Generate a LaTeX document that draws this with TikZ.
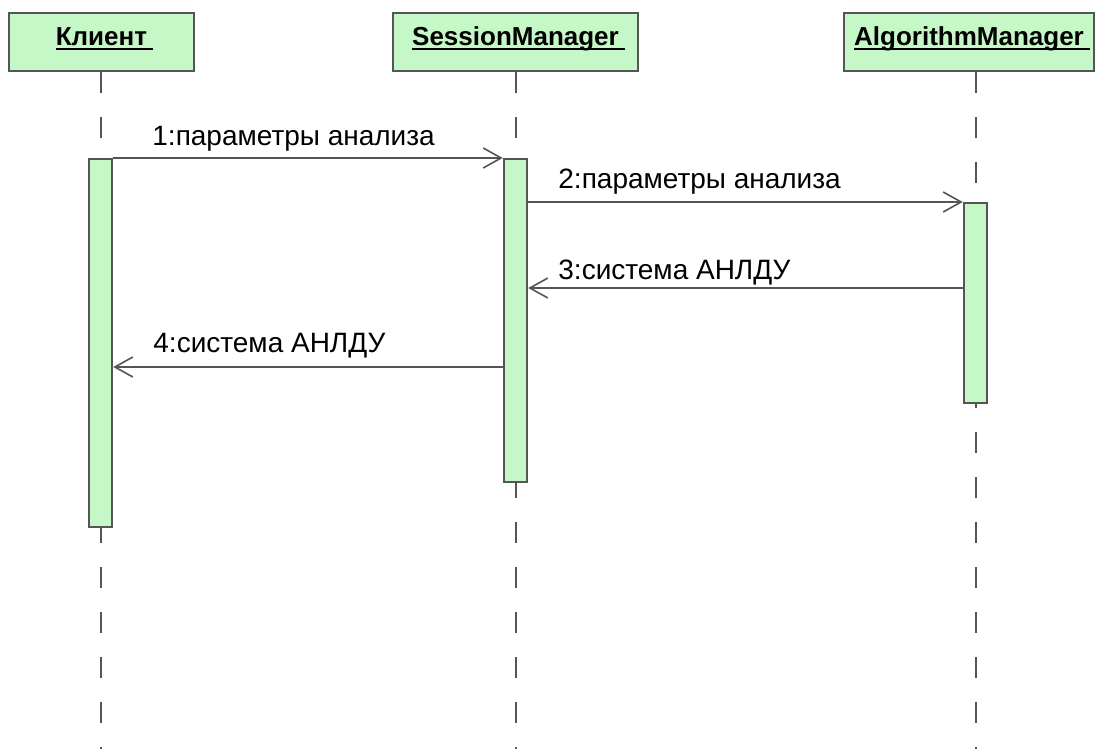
\documentclass[tikz,border=0pt]{standalone}
\usepackage{fontspec}
\setmainfont{Liberation Sans}
\usetikzlibrary{arrows.meta, positioning}

\definecolor{actgreen}{RGB}{198,247,198}
\definecolor{linegray}{RGB}{85,85,85}

% underlined object name, rule at a fixed depth
\newcommand{\objname}[1]{\setbox0=\hbox{#1}%
  \rlap{\vrule width\dimexpr\wd0+3pt\relax height-1.3pt depth 2.3pt}\box0}

\begin{document}
\begin{tikzpicture}[x=0.5pt, y=-0.5pt,
    obj/.style={rectangle, draw=linegray, line width=1.2pt, fill=actgreen,
                minimum height=29pt, inner sep=0pt, text height=9.5pt, text depth=6pt,
                font=\fontsize{13pt}{15pt}\selectfont\bfseries},
    actbar/.style={rectangle, draw=linegray, line width=1.2pt, fill=actgreen,
                   minimum width=11.5pt, inner sep=0pt, anchor=north},
    life/.style={draw=linegray, line width=1pt, dash pattern=on 10.5pt off 12pt},
    msg/.style={-{Straight Barb[length=9pt, width=10pt]}, draw=linegray, line width=0.8pt},
    lbl/.style={anchor=base west, inner sep=0pt, font=\fontsize{14pt}{16pt}\selectfont}
  ]
    \useasboundingbox (0,0) rectangle (1096,749);

    % objects
    \node[obj, minimum width=92.5pt] (client) at (101.5,42) {\objname{Клиент}};
    \node[obj, minimum width=122.5pt] (session) at (515.5,42) {\objname{SessionManager}};
    \node[obj, minimum width=125pt] (algo) at (969,42) {\objname{AlgorithmManager}};

    % lifelines
    \coordinate (clientend) at (101,749);
    \coordinate (sessionend) at (516,749);
    \coordinate (algoend) at (976,749);
    \draw[life] (client.south -| clientend) -- (clientend);
    \draw[life] (session.south -| sessionend) -- (sessionend);
    \draw[life] (algo.south -| algoend) -- (algoend);

    % activations
    \node[actbar, minimum height=184pt] (clientbar) at (100.5,158) {};
    \node[actbar, minimum height=161.5pt] (sessionbar) at (515.5,158) {};
    \node[actbar, minimum height=100pt] (algobar) at (975.5,202) {};

    % messages
    \coordinate (reply3) at (0,288);
    \coordinate (reply4) at (0,367);
    \draw[msg] (clientbar.north east) -- (sessionbar.north west);
    \draw[msg] (sessionbar.east |- algobar.north) -- (algobar.north west);
    \draw[msg] (algobar.west |- reply3) -- (sessionbar.east |- reply3);
    \draw[msg] (sessionbar.west |- reply4) -- (clientbar.east |- reply4);

    \node[lbl] (lbl1) at (152,145) {1:параметры анализа};
    \node[lbl] (lbl2) at (558,188) {2:параметры анализа};
    \node[lbl] (lbl3) at (558,279) {3:система АНЛДУ};
    \node[lbl] (lbl4) at (153,352) {4:система АНЛДУ};
  \end{tikzpicture}
\end{document}
